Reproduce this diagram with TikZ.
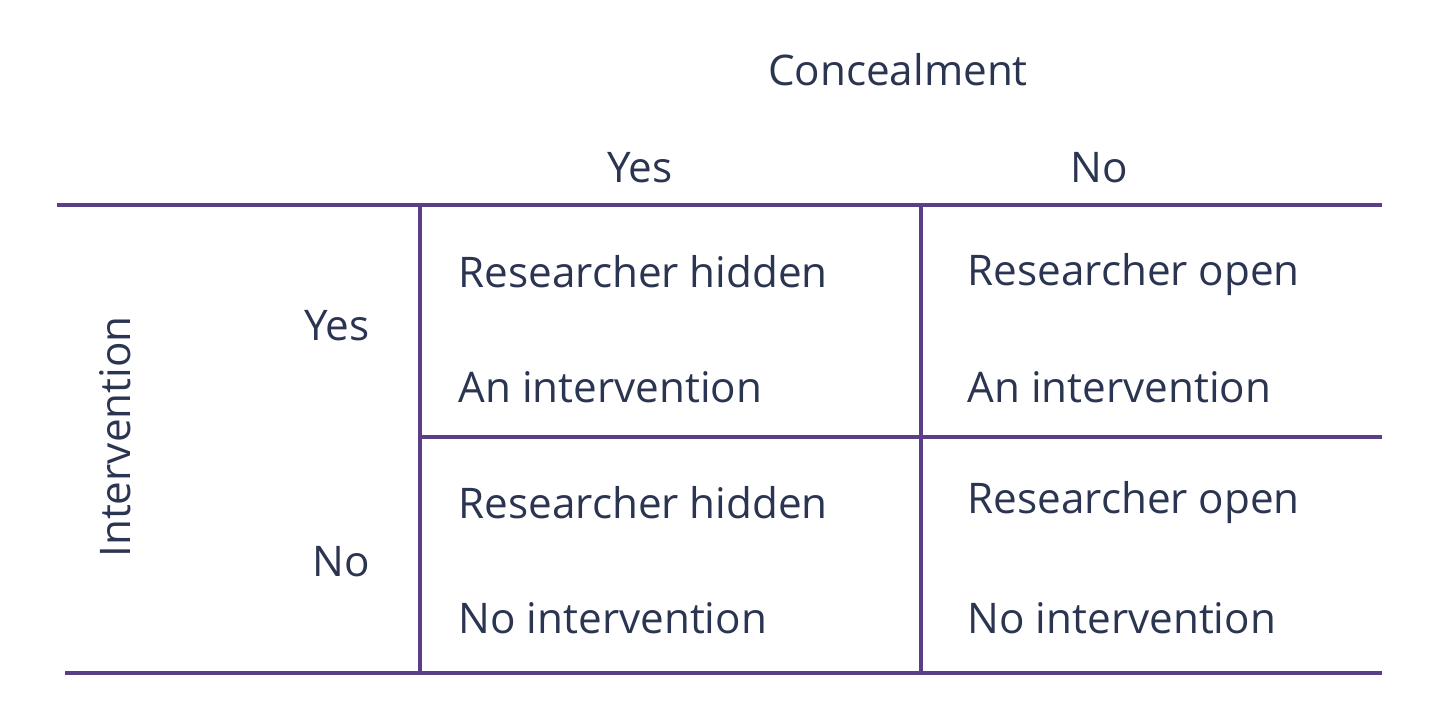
\documentclass[tikz,border=0pt]{standalone}
\usepackage{fontspec}
\setmainfont{Open Sans}
\definecolor{rulecol}{HTML}{5B3F86}
\definecolor{inkcol}{HTML}{2B3551}
\tikzset{
  rule/.style={draw=rulecol, line width=1.4pt},
  lab/.style={text=inkcol, font=\fontsize{12}{14}\selectfont, inner sep=0pt},
  cell/.style={lab, anchor=west}
}
\begin{document}
\begin{tikzpicture}[x=0.01cm,y=-0.01cm]
\useasboundingbox (0,0) rectangle (1440,708);

% rules
\coordinate (tl) at (57,205);  \coordinate (tr) at (1382,205);
\coordinate (ml) at (420,437); \coordinate (mr) at (1382,437);
\coordinate (bl) at (65,673);  \coordinate (br) at (1382,673);
\coordinate (v1t) at (420,205); \coordinate (v1b) at (420,673);
\coordinate (v2t) at (921,205); \coordinate (v2b) at (921,673);
\draw[rule] (tl) -- (tr);
\draw[rule] (ml) -- (mr);
\draw[rule, line width=1.1pt] (bl) -- (br);
\draw[rule, line width=1.1pt] (v1t) -- (v1b);
\draw[rule, line width=1.1pt] (v2t) -- (v2b);

% headings
\node[lab] (conc) at (898,70) {Concealment};
\node[lab] (cyes) at (640,168) {Yes};
\node[lab] (cno) at (1099,168) {No};
\node[lab, rotate=90] (interv) at (115,437) {Intervention};
\node[lab] (ryes) at (337,326) {Yes};
\node[lab] (rno) at (341,562) {No};

% cells
\node[cell] (a1) at (458,272) {Researcher hidden};
\node[cell] (a2) at (458,387) {An intervention};
\node[cell] (b1) at (967,275) {Researcher open};
\node[cell] (b2) at (967,387) {An intervention};
\node[cell] (c1) at (458,503) {Researcher hidden};
\node[cell] (c2) at (458,618) {No intervention};
\node[cell] (d1) at (967,503) {Researcher open};
\node[cell] (d2) at (967,618) {No intervention};
\end{tikzpicture}
\end{document}
